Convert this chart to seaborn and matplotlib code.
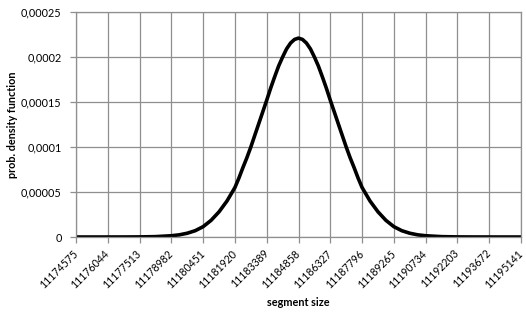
import matplotlib
matplotlib.use("Agg")
import matplotlib.pyplot as plt
import seaborn as sns

# segment sizes (x) and density values
segment_size = [
    11174575, 11175310, 11176044, 11176779, 11177513, 11178248, 11178982,
    11179349, 11179717, 11180084, 11180451, 11180818, 11181186, 11181553,
    11181920, 11182104, 11182287, 11182471, 11182655, 11182838, 11183022,
    11183205, 11183389, 11183573, 11183756, 11183940, 11184124, 11184307,
    11184491, 11184674, 11184858, 11185042, 11185225, 11185409, 11185593,
    11185776, 11185960, 11186143, 11186327, 11186511, 11186694, 11186878,
    11187062, 11187245, 11187429, 11187612, 11187796, 11188163, 11188531,
    11188898, 11189265, 11189632, 11190000, 11190367, 11190734, 11191469,
    11192203, 11192938, 11193672, 11194407, 11195141,
]
density = [
    0.0, 0.0, 0.0, 2e-8, 1e-7, 4e-7, 1.4e-6,
    2.4e-6, 4.2e-6, 7.0e-6, 1.15e-5, 1.85e-5, 2.8e-5, 4.0e-5,
    5.5e-5, 6.55e-5, 7.7e-5, 8.8e-5, 1.0e-4, 1.13e-4, 1.26e-4,
    1.39e-4, 1.52e-4, 1.655e-4, 1.78e-4, 1.9e-4, 2.0e-4, 2.09e-4,
    2.155e-4, 2.195e-4, 2.21e-4, 2.195e-4, 2.155e-4, 2.09e-4, 2.0e-4,
    1.9e-4, 1.78e-4, 1.655e-4, 1.52e-4, 1.39e-4, 1.26e-4, 1.13e-4,
    1.0e-4, 8.8e-5, 7.7e-5, 6.55e-5, 5.5e-5, 4.0e-5, 2.8e-5,
    1.85e-5, 1.15e-5, 7.0e-6, 4.2e-6, 2.4e-6, 1.4e-6, 4e-7,
    1e-7, 2e-8, 0.0, 0.0, 0.0,
]

x_ticks = [11174575, 11176044, 11177513, 11178982, 11180451, 11181920,
           11183389, 11184858, 11186327, 11187796, 11189265, 11190734,
           11192203, 11193672, 11195141]
y_ticks = [0, 0.00005, 0.0001, 0.00015, 0.0002, 0.00025]
y_tick_labels = ["0", "0,00005", "0,0001", "0,00015", "0,0002", "0,00025"]

sns.set_style("white")
plt.rcParams["font.family"] = ["Lato", "DejaVu Sans"]
plt.rcParams["text.color"] = "black"
plt.rcParams["axes.labelcolor"] = "black"
plt.rcParams["xtick.labelcolor"] = "black"
plt.rcParams["ytick.labelcolor"] = "black"

grid_color = "#8f8f8f"

fig = plt.figure(figsize=(5.26, 3.15), dpi=100)
ax = fig.add_axes([76 / 526, 1 - 237 / 315, 445 / 526, 225 / 315])

sns.lineplot(x=segment_size, y=density, color="black", linewidth=2.6, ax=ax)

ax.set_xlim(x_ticks[0], x_ticks[-1])
ax.set_ylim(0, 0.00025)
ax.set_xticks(x_ticks)
ax.set_xticklabels([str(t) for t in x_ticks], rotation=45, ha="right",
                   va="center", rotation_mode="anchor", fontsize=7.6)
ax.set_yticks(y_ticks)
ax.set_yticklabels(y_tick_labels, fontsize=7.8)

ax.grid(True, color=grid_color, linewidth=0.9)
ax.set_axisbelow(True)
for s in ax.spines.values():
    s.set_color(grid_color)
    s.set_linewidth(0.9)
ax.tick_params(axis="x", length=4, width=0.9, color=grid_color,
               labelcolor="black", direction="out", pad=6.5, bottom=True)
ax.tick_params(axis="y", length=4, width=0.9, color=grid_color,
               labelcolor="black", direction="out", pad=6.3, left=True)

ax.set_xlabel("segment size", fontsize=7.8, fontweight="bold", color="black")
ax.set_ylabel("prob. density function", fontsize=7.8, fontweight="bold", color="black")
ax.xaxis.set_label_coords(0.5, (237 - 297) / 225)
ax.yaxis.set_label_coords((18 - 76) / 445, 0.5)

fig.savefig("out.png", dpi=100)
